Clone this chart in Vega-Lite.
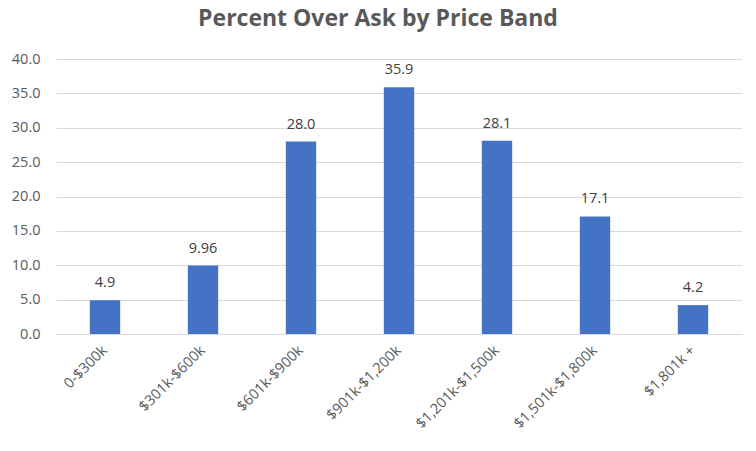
{
  "$schema": "https://vega.github.io/schema/vega-lite/v6.json",
  "width": 686,
  "height": 275,
  "autosize": {"type": "none"},
  "padding": {"left": 56, "top": 59, "right": 14, "bottom": 117},
  "background": "white",
  "title": {
    "text": "Percent Over Ask by Price Band",
    "font": "Open Sans",
    "fontSize": 23,
    "fontWeight": "bold",
    "color": "#595959",
    "anchor": "middle",
    "dx": -21,
    "offset": 20
  },
  "config": {
    "view": {"stroke": null},
    "font": "Open Sans"
  },
  "data": {
    "values": [
      {"band": "0-$300k", "value": 4.9, "label": "4.9"},
      {"band": "$301k-$600k", "value": 9.96, "label": "9.96"},
      {"band": "$601k-$900k", "value": 28.0, "label": "28.0"},
      {"band": "$901k-$1,200k", "value": 35.9, "label": "35.9"},
      {"band": "$1,201k-$1,500k", "value": 28.1, "label": "28.1"},
      {"band": "$1,501k-$1,800k", "value": 17.1, "label": "17.1"},
      {"band": "$1,801k +", "value": 4.2, "label": "4.2"}
    ]
  },
  "encoding": {
    "x": {
      "field": "band",
      "type": "nominal",
      "sort": null,
      "scale": {"paddingInner": 0.69, "paddingOuter": 0.345},
      "axis": {
        "title": null,
        "labelAngle": -45,
        "labelAlign": "right",
        "labelBaseline": "middle",
        "labelFont": "Open Sans",
        "labelFontSize": 14.5,
        "labelColor": "#595959",
        "labelPadding": 14,
        "labelOverlap": false,
        "ticks": false,
        "domainColor": "#D9D9D9",
        "domainWidth": 1
      }
    },
    "y": {
      "field": "value",
      "type": "quantitative",
      "scale": {"domain": [0, 40], "nice": false},
      "axis": {
        "title": null,
        "values": [0, 5, 10, 15, 20, 25, 30, 35, 40],
        "format": ".1f",
        "labelFont": "Open Sans",
        "labelFontSize": 14.5,
        "labelColor": "#595959",
        "labelPadding": 16,
        "ticks": false,
        "domain": false,
        "gridColor": "#D9D9D9",
        "gridWidth": 1
      }
    }
  },
  "layer": [
    {"mark": {"type": "bar", "color": "#4472C4"}},
    {
      "mark": {"type": "text", "baseline": "alphabetic", "dy": -13, "fontSize": 14.5, "color": "#404040", "font": "Open Sans"},
      "encoding": {"text": {"field": "label"}}
    }
  ]
}
